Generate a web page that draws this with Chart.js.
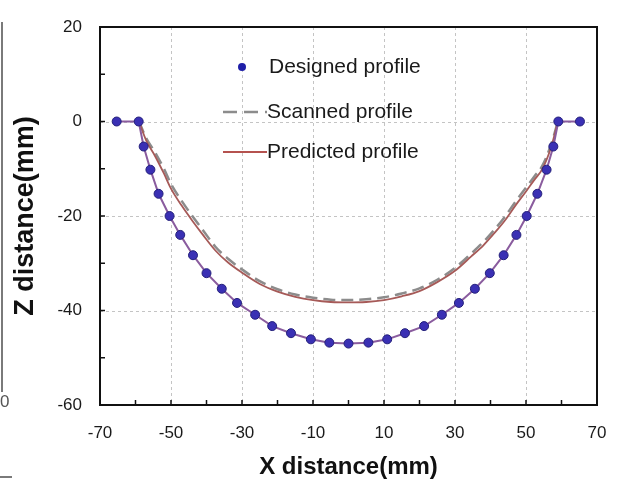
<!DOCTYPE html>
<html>
<head>
<meta charset="utf-8">
<script src="https://cdn.jsdelivr.net/npm/chart.js@4/dist/chart.umd.min.js"></script>
<style>
html,body{margin:0;padding:0;background:#fff;}
#wrap{width:620px;height:479px;position:relative;}
</style>
</head>
<body>
<div id="wrap"><canvas id="c" width="620" height="479"></canvas></div>
<script>
// ---- data ----
const designedX = [-65.3,-59.1,-57.7,-55.8,-53.5,-50.4,-47.4,-43.8,-40,-35.7,-31.4,-26.3,-21.5,-16.2,-10.6,-5.4,0,5.6,10.9,15.9,21.3,26.3,31.1,35.6,39.8,43.7,47.3,50.2,53.2,55.8,57.7,59.1,65.2];
const designedZ = [0,0,-5.3,-10.2,-15.3,-20,-24,-28.3,-32.1,-35.4,-38.4,-40.9,-43.3,-44.8,-46.1,-46.8,-47,-46.8,-46.1,-44.8,-43.3,-40.9,-38.4,-35.4,-32.1,-28.3,-24,-20,-15.3,-10.2,-5.3,0,0];

const profileX = [-59,-57,-54.5,-52,-50,-47,-44,-41,-37.5,-34,-30,-25,-20,-15,-10,-5,0,5,10,15,20,25,30,34.5,38,41,44,47,50,52.5,54.5,57,59];
const scannedZ = [0,-3.5,-6.5,-10,-13.2,-16.8,-20,-23,-26.5,-29,-31.3,-33.8,-35.5,-36.6,-37.3,-37.7,-37.8,-37.6,-37.2,-36.4,-35.3,-33.5,-31,-28,-25.5,-23,-20.2,-17,-14,-11.5,-9.5,-5,0];
const predictedZ = [0,-4,-7.3,-11,-14.2,-17.8,-21,-24,-27.3,-29.8,-32,-34.4,-36,-37.1,-37.8,-38.2,-38.3,-38.2,-37.8,-37,-35.9,-34,-31.6,-28.6,-26.2,-23.7,-21,-17.8,-14.8,-12.2,-10.2,-5.6,0];

const seriesNames = ['Designed profile','Scanned profile','Predicted profile'];
const xTicks = [-70,-50,-30,-10,10,30,50,70];
const yTicks = [-60,-40,-20,0,20];
const xTitle = 'X distance(mm)';
const yTitle = 'Z distance(mm)';

const toPts = (xs, ys) => xs.map((x, i) => ({x: x, y: ys[i]}));

const frame = {
  id: 'frame',
  beforeDatasetsDraw(chart) {
    const {ctx, chartArea: a, scales: {x, y}} = chart;
    ctx.save();
    ctx.strokeStyle = '#c4c4c4';
    ctx.lineWidth = 1;
    ctx.setLineDash([3, 3]);
    xTicks.slice(1, -1).forEach(v => {
      const px = Math.round(x.getPixelForValue(v)) + 0.5;
      ctx.beginPath(); ctx.moveTo(px, a.top); ctx.lineTo(px, a.bottom); ctx.stroke();
    });
    yTicks.slice(1, -1).forEach(v => {
      const py = Math.round(y.getPixelForValue(v)) + 0.5;
      ctx.beginPath(); ctx.moveTo(a.left, py); ctx.lineTo(a.right, py); ctx.stroke();
    });
    ctx.restore();
  },
  afterDatasetsDraw(chart) {
    const {ctx, chartArea: a, scales: {x, y}} = chart;
    ctx.save();
    ctx.setLineDash([]);
    ctx.strokeStyle = '#111';
    ctx.lineWidth = 2;
    ctx.strokeRect(a.left, a.top, a.right - a.left, a.bottom - a.top);
    ctx.lineWidth = 1.5;
    for (let v = -60; v <= 60; v += 10) {
      const px = x.getPixelForValue(v);
      ctx.beginPath(); ctx.moveTo(px, a.bottom); ctx.lineTo(px, a.bottom - 5); ctx.stroke();
    }
    for (let v = -50; v <= 10; v += 10) {
      const py = y.getPixelForValue(v);
      ctx.beginPath(); ctx.moveTo(a.left, py); ctx.lineTo(a.left + 5, py); ctx.stroke();
    }
    // legend
    ctx.font = '21px "Liberation Sans", Arial, sans-serif';
    ctx.textBaseline = 'middle';
    ctx.textAlign = 'left';
    ctx.fillStyle = '#1f1fa8';
    ctx.beginPath(); ctx.arc(242, 67, 4, 0, Math.PI * 2); ctx.fill();
    ctx.fillStyle = '#1a1a1a';
    ctx.fillText(seriesNames[0], 269, 67);
    ctx.strokeStyle = '#8c8c8c';
    ctx.lineWidth = 2.5;
    ctx.setLineDash([14, 7]);
    ctx.beginPath(); ctx.moveTo(223, 112); ctx.lineTo(267, 112); ctx.stroke();
    ctx.fillText(seriesNames[1], 267, 112);
    ctx.setLineDash([]);
    ctx.strokeStyle = '#b5524f';
    ctx.lineWidth = 2;
    ctx.beginPath(); ctx.moveTo(223, 152); ctx.lineTo(267, 152); ctx.stroke();
    ctx.fillText(seriesNames[2], 267, 152);
    // fragment of the neighbouring panel at the left edge
    ctx.strokeStyle = '#7a7a7a';
    ctx.lineWidth = 2;
    ctx.beginPath(); ctx.moveTo(2, 22); ctx.lineTo(2, 392); ctx.stroke();
    ctx.beginPath(); ctx.moveTo(0, 477); ctx.lineTo(12, 477); ctx.stroke();
    ctx.font = '17px "Liberation Sans", Arial, sans-serif';
    ctx.fillStyle = '#555';
    ctx.fillText('0', 0, 402);
    ctx.restore();
  }
};

new Chart(document.getElementById('c'), {
  type: 'scatter',
  data: {
    datasets: [
      {
        label: seriesNames[0],
        data: toPts(designedX, designedZ),
        showLine: true,
        borderColor: '#8a5c9e',
        borderWidth: 2,
        backgroundColor: '#3a30b4',
        pointBackgroundColor: '#3a30b4',
        pointBorderColor: '#24207a',
        pointBorderWidth: 1,
        pointRadius: 4.5,
        order: 0
      },
      {
        label: seriesNames[1],
        data: toPts(profileX, scannedZ),
        showLine: true,
        borderColor: '#8c8c8c',
        borderWidth: 2.5,
        borderDash: [12, 6],
        pointRadius: 0,
        cubicInterpolationMode: 'monotone',
        order: 2
      },
      {
        label: seriesNames[2],
        data: toPts(profileX, predictedZ),
        showLine: true,
        borderColor: '#a65a58',
        borderWidth: 1.8,
        pointRadius: 0,
        cubicInterpolationMode: 'monotone',
        order: 1
      }
    ]
  },
  options: {
    responsive: false,
    animation: false,
    layout: {padding: {top: 27, right: 23, left: 0, bottom: 0}},
    plugins: {legend: {display: false}, tooltip: {enabled: false}},
    scales: {
      x: {
        type: 'linear', min: -70, max: 70,
        afterBuildTicks: s => { s.ticks = xTicks.map(v => ({value: v})); },
        afterFit: s => { s.height = 74; s.paddingLeft = 0; s.paddingRight = 0; },
        grid: {display: false, drawTicks: false},
        border: {display: false},
        ticks: {padding: 18, color: '#1a1a1a', font: {family: '"Liberation Sans", Arial, sans-serif', size: 17}, maxRotation: 0},
        title: {display: true, text: xTitle, color: '#111', padding: 0,
          font: {family: '"Liberation Sans", Arial, sans-serif', size: 24, weight: 'bold', lineHeight: 1.0}}
      },
      y: {
        type: 'linear', min: -60, max: 20,
        afterBuildTicks: s => { s.ticks = yTicks.map(v => ({value: v})); },
        afterFit: s => { s.width = 100; s.paddingTop = 0; s.paddingBottom = 0; },
        grid: {display: false, drawTicks: false},
        border: {display: false},
        ticks: {padding: 18, color: '#1a1a1a', font: {family: '"Liberation Sans", Arial, sans-serif', size: 17}},
        title: {display: true, text: yTitle, color: '#111', padding: {top: 9, bottom: 0},
          font: {family: '"Liberation Sans", Arial, sans-serif', size: 27, weight: 'bold', lineHeight: 1.2}}
      }
    }
  },
  plugins: [frame]
});
</script>
</body>
</html>
